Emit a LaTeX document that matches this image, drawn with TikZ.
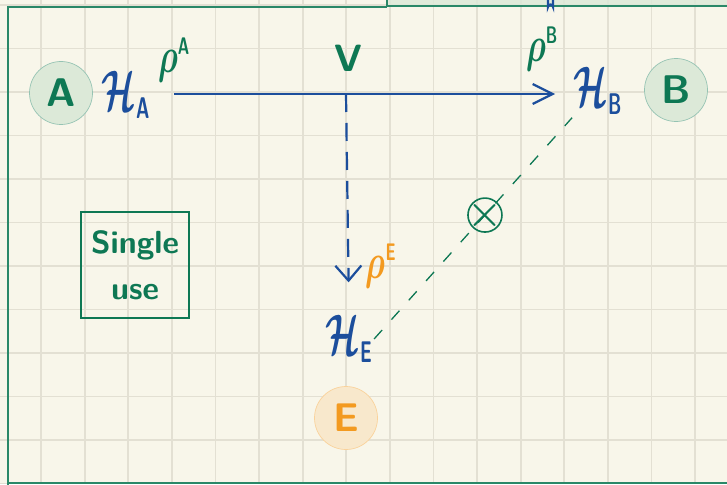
\documentclass[tikz,border=0pt]{standalone}
\usepackage{amsmath,amssymb,bm}
\usepackage{fontspec}
\usepackage{tikz}
\usetikzlibrary{arrows.meta,positioning,calc}
\usepackage{xcolor}
\definecolor{paper}{RGB}{248,246,234}
\definecolor{gridgray}{RGB}{227,224,211}
\definecolor{inkgreen}{RGB}{14,120,84}
\definecolor{framegreen}{RGB}{42,136,104}
\definecolor{inkblue}{RGB}{28,78,156}
\definecolor{inkorange}{RGB}{243,154,32}
\definecolor{partygreen}{RGB}{220,233,216}
\definecolor{partyorange}{RGB}{248,232,204}
\newcommand{\inkidx}[2]{\mbox{\fontsize{#1}{#1}\selectfont\sffamily\bfseries #2}}

\begin{document}
\begin{tikzpicture}[x=1pt,y=-1pt,
    party/.style={circle,minimum size=63pt,inner sep=0pt,line width=0.7pt,
                  font=\sffamily\bfseries\fontsize{40}{40}\selectfont},
    hilb/.style={text=inkblue,inner sep=1pt,xscale=1.4,yscale=2.3,font=\Huge},
    dens/.style={inner sep=1pt,xscale=1.3,yscale=2.0,font=\Huge},
    gridline/.style={draw=gridgray,line width=1.8pt},
    pageframe/.style={draw=framegreen,line width=1.6pt},
    qchannel/.style={draw=inkblue,line width=2.2pt,
                     -{Straight Barb[length=20pt,width=20pt]}},
    qleak/.style={draw=inkblue,line width=2.2pt,dash pattern=on 18pt off 11pt,
                  -{Straight Barb[length=15pt,width=26pt]}},
    evedash/.style={draw=inkgreen,line width=1.3pt,dash pattern=on 12pt off 14pt},
    tapmark/.style={draw=inkgreen,solid,circle,line width=1.6pt,minimum size=34pt,
                    inner sep=-7pt,text=inkgreen,font=\bfseries\fontsize{40}{40}\selectfont}]

    % paper and grid
    \useasboundingbox (0,0) rectangle (727,484);
    \fill[paper] (0,0) rectangle (727,484);
    \foreach \k in {-1,...,16}
      \draw[gridline] ({41+43.6*\k},0) -- ({41+43.6*\k},484);
    \foreach \k in {0,...,11}
      \draw[gridline] (0,{5+43.5*\k}) -- (727,{5+43.5*\k});

    % page frame
    \fill[partygreen,fill opacity=0.8] (387,-5) rectangle (730,6);
    \draw[pageframe] (730,6) -- (387,6) -- (387,-5);
    \draw[pageframe] (8,490) -- (8,7) -- (387,7);
    \draw[pageframe] (8,483) -- (730,483);
    \draw[inkblue,line width=2.2pt,line cap=round]
      (548,0) -- (548,7) arc (180:360:2.5) -- (553,0);

    % parties
    \node[party,fill=partygreen,draw=framegreen!50,text=inkgreen] (a) at (61,93) {A};
    \node[party,fill=partygreen,draw=framegreen!50,text=inkgreen] (b) at (676,90) {B};
    \node[party,fill=partyorange,draw=inkorange!45,text=inkorange] (e) at (346,418) {E};

    \node[hilb] (ha) at (126,95) {$\bm{\mathcal{H}}_{\inkidx{13}{A}}$};
    \node[hilb] (hb) at (598,91) {$\bm{\mathcal{H}}_{\inkidx{13}{B}}$};
    \node[hilb] (he) at (349,339) {$\bm{\mathcal{H}}_{\inkidx{13}{E}}$};

    \node[dens,text=inkgreen] (rhoa) at (174,60) {$\bm{\rho}^{\inkidx{12}{A}}$};
    \node[dens,text=inkgreen] (rhob) at (542,49) {$\bm{\rho}^{\inkidx{12}{B}}$};
    \node[dens,text=inkorange] (rhoe) at (381,266) {$\bm{\rho}^{\inkidx{12}{E}}$};

    \node[text=inkgreen,font=\sffamily\bfseries\fontsize{38}{38}\selectfont] (v) at (348,58) {V};
    \coordinate (split) at (346,94);

    \node[draw=inkgreen,line width=1.5pt,minimum width=108pt,minimum height=106pt,
          align=center,text=inkgreen,font=\sffamily\bfseries\fontsize{32}{46}\selectfont]
      (use) at (135,265) {Single\\use};

    % channels
    \draw[qchannel,shorten <=22pt,shorten >=17pt] (ha.east |- split) -- (hb.west |- split);
    \draw[qleak,shorten >=30pt] (split) -- (he.north);
    \draw[evedash] (he.east) -- node[tapmark,pos=0.56] (tap) {×} (hb.south west);
\end{tikzpicture}
\end{document}
